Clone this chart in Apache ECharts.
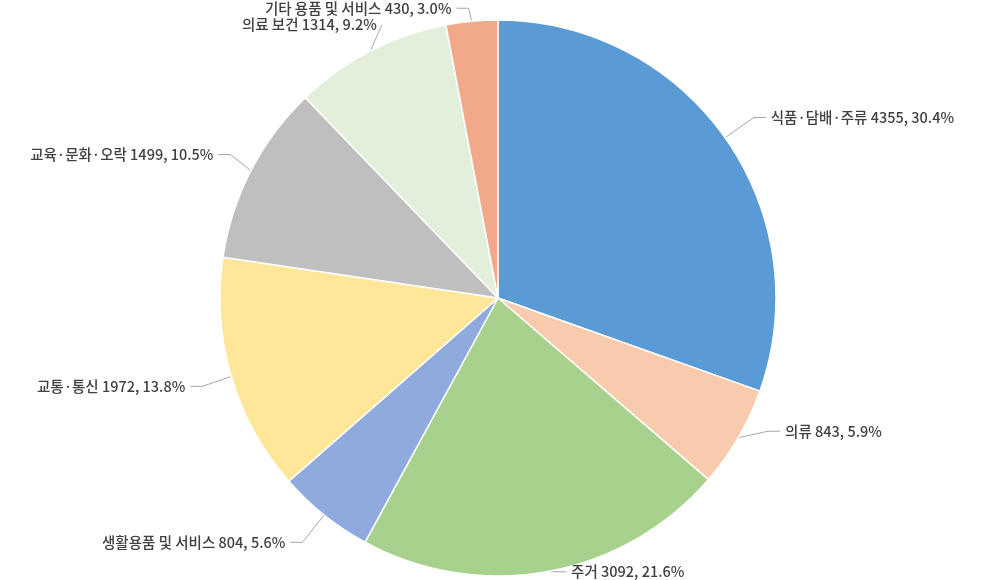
<!DOCTYPE html><html><head><meta charset="utf-8">
<script src="https://cdn.jsdelivr.net/npm/echarts@6/dist/echarts.min.js"></script>
<style>html,body{margin:0;background:#fff}#c{width:1000px;height:580px}</style></head><body><div id="c"></div>
<script>
const categories=['식품·담배·주류','의류','주거','생활용품 및 서비스','교통·통신','교육·문화·오락','의료 보건','기타 용품 및 서비스'];
const values=[4355,843,3092,804,1972,1499,1314,430];
const colors=['#5B9BD5','#F8CBAD','#A9D18E','#8FAADC','#FFE699','#BFBFBF','#E2EFDA','#F1A98A'];
const chart=echarts.init(document.getElementById('c'));
chart.setOption({
 animation:false,
 series:[{type:'pie',center:[498,298],radius:278,startAngle:90,clockwise:true,
  data:categories.map((n,i)=>({name:n,value:values[i],itemStyle:{color:colors[i]}})),
  itemStyle:{borderColor:'#fff',borderWidth:1.5},
  label:{formatter:p=>p.name+' '+p.value+', '+p.percent.toFixed(1)+'%',fontFamily:'Noto Sans CJK KR',fontSize:14.5,fontWeight:500,color:'#404040'},
  labelLine:{length:35,length2:12,lineStyle:{color:'#a6a6a6'}}
 }]
});
</script></body></html>
